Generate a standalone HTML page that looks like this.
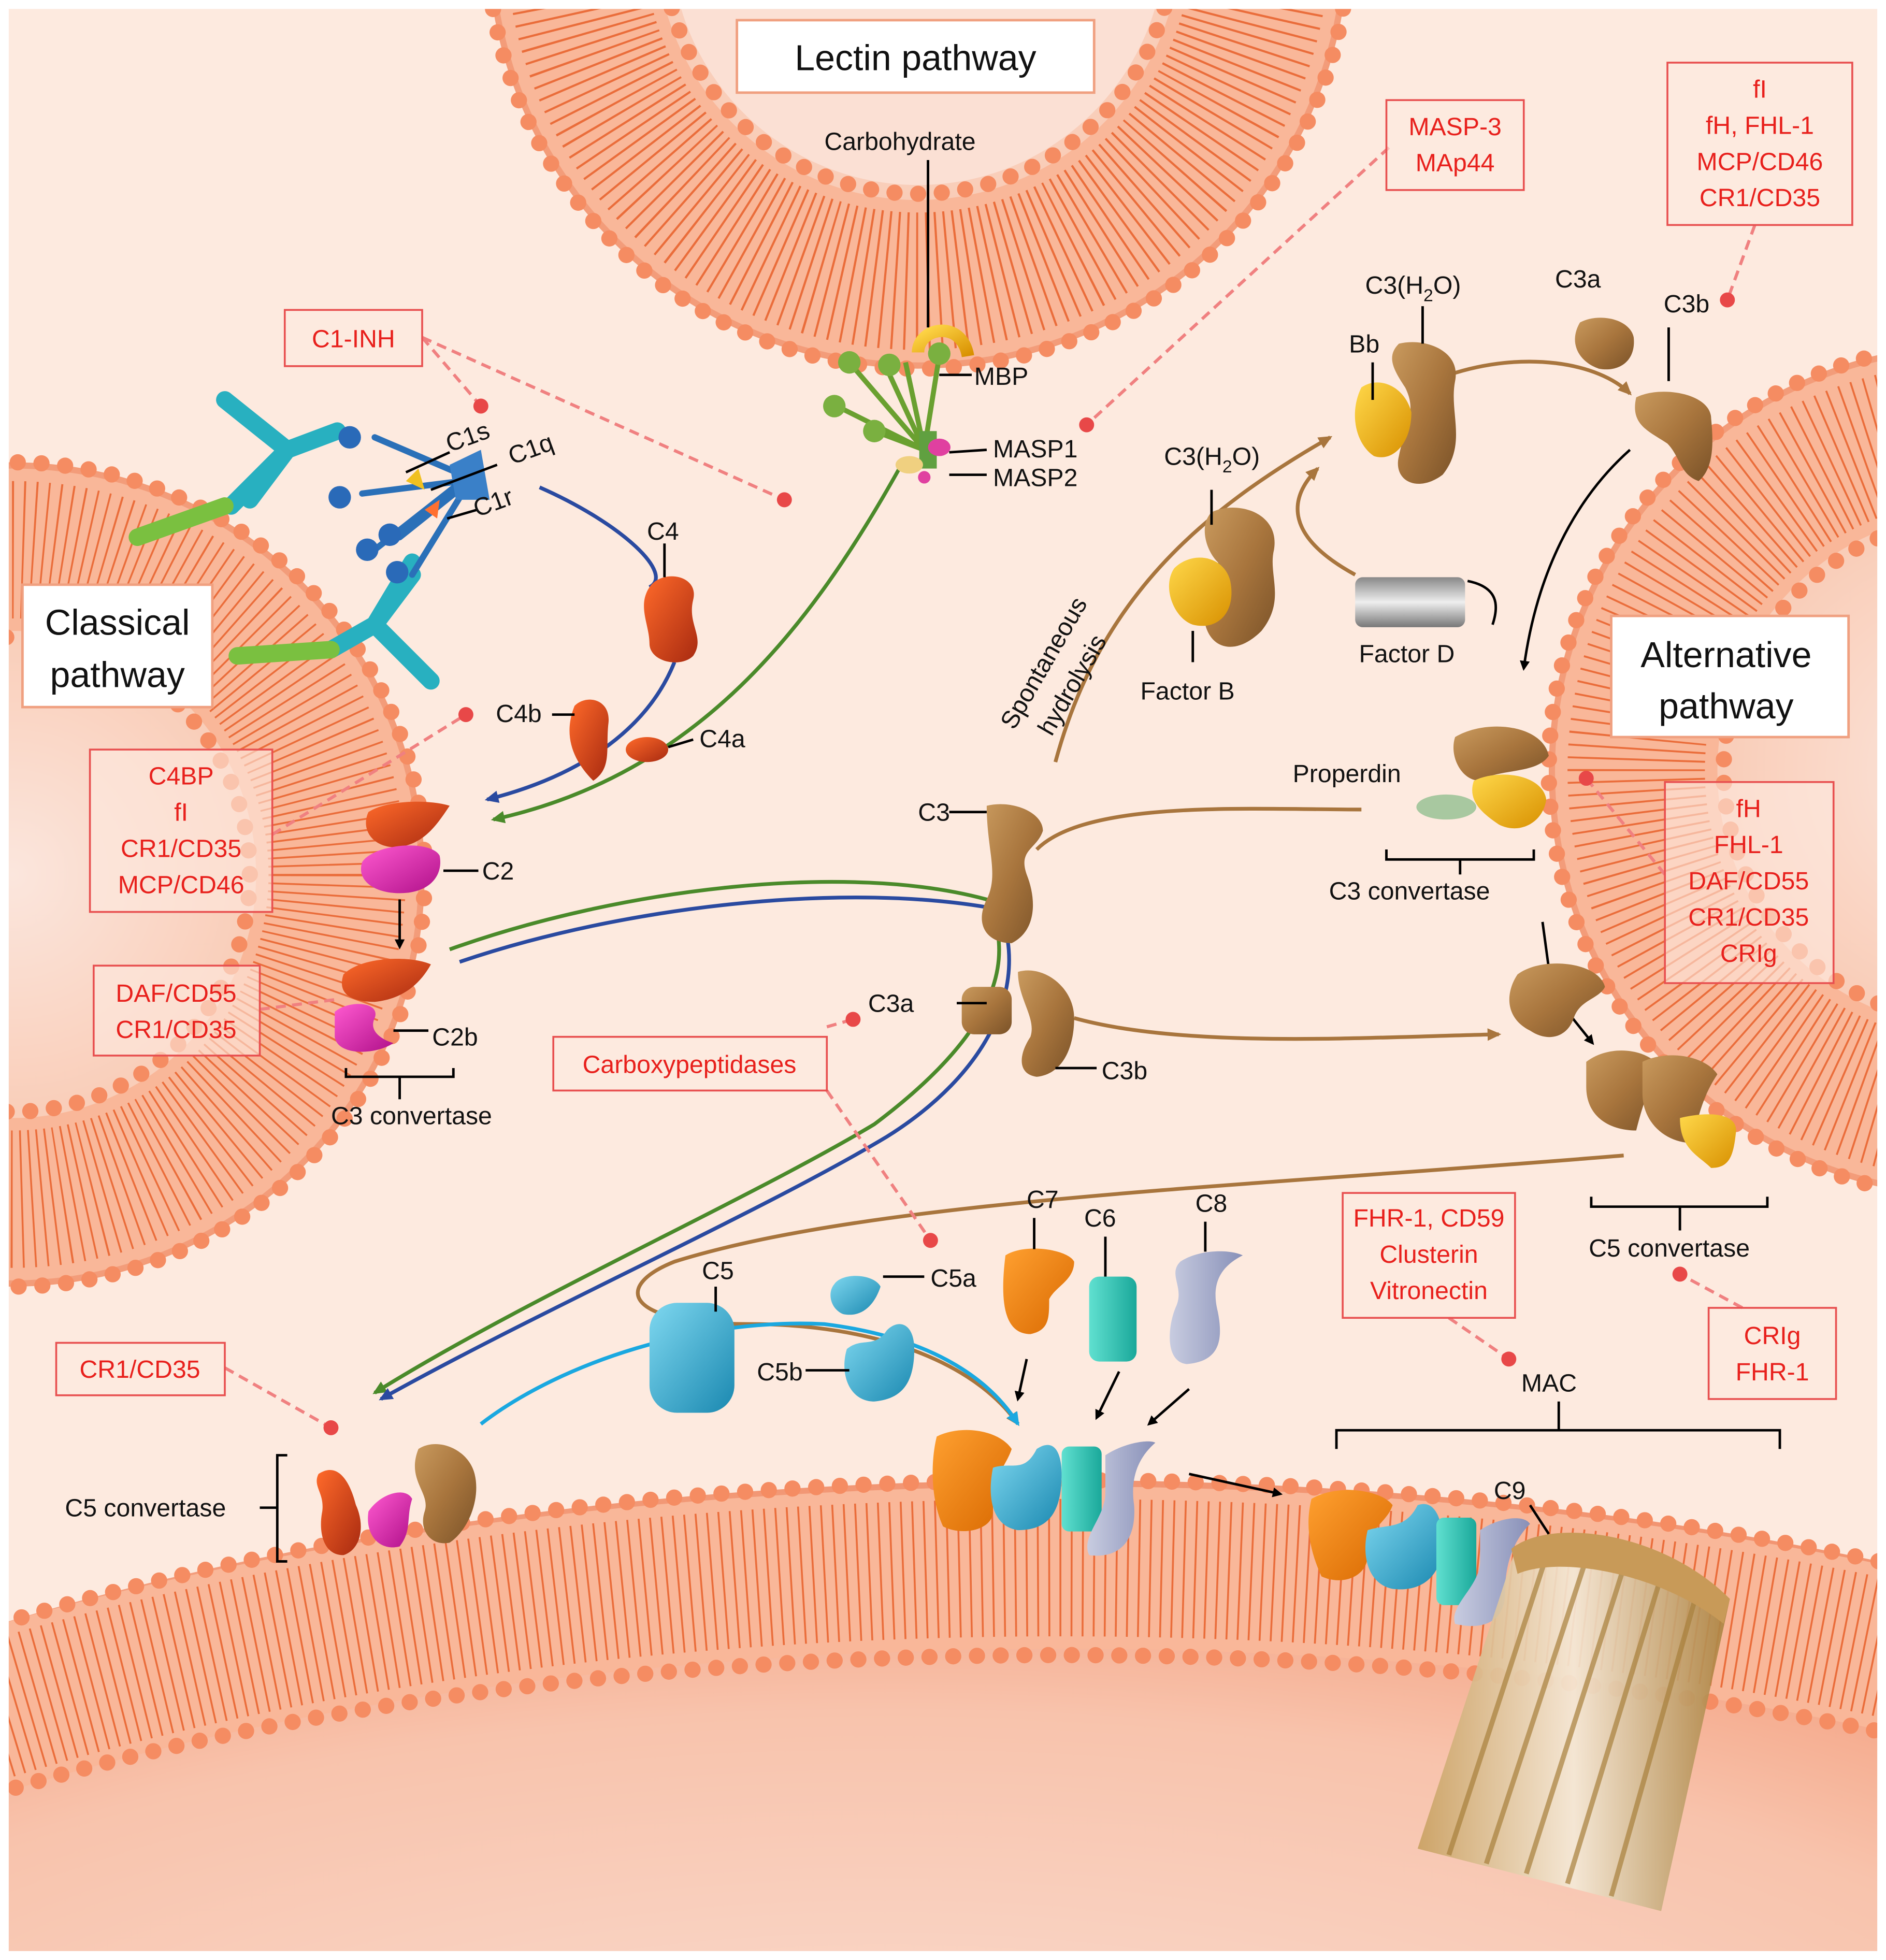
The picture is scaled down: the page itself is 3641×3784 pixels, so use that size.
<!DOCTYPE html>
<html><head><meta charset="utf-8"><style>html,body{margin:0;padding:0;background:#fdeadf;overflow:hidden;width:3641px;height:3784px}svg{display:block}</style></head><body>
<svg width="3641" height="3784" viewBox="0 0 1510 1569" xmlns="http://www.w3.org/2000/svg" font-family="Liberation Sans, sans-serif">
<defs>
<radialGradient id="cell" cx="50%" cy="50%" r="50%"><stop offset="0" stop-color="#fbe6dd"/><stop offset="0.6" stop-color="#f9cdb8"/><stop offset="1" stop-color="#f39b78"/></radialGradient>
<radialGradient id="cellB" cx="45%" cy="55%" r="55%"><stop offset="0" stop-color="#fbe4db"/><stop offset="0.7" stop-color="#f8c3ac"/><stop offset="1" stop-color="#f29572"/></radialGradient>
<linearGradient id="brown" x1="0" y1="0" x2="1" y2="1"><stop offset="0" stop-color="#c99a5e"/><stop offset="0.5" stop-color="#a8753d"/><stop offset="1" stop-color="#7a5228"/></linearGradient>
<linearGradient id="gold" x1="0" y1="0" x2="1" y2="1"><stop offset="0" stop-color="#ffd84a"/><stop offset="1" stop-color="#d89000"/></linearGradient>
<linearGradient id="red" x1="0" y1="0" x2="1" y2="1"><stop offset="0" stop-color="#ff6a2a"/><stop offset="1" stop-color="#a82a10"/></linearGradient>
<linearGradient id="mag" x1="0" y1="0" x2="1" y2="1"><stop offset="0" stop-color="#ff5ad0"/><stop offset="1" stop-color="#b0108a"/></linearGradient>
<linearGradient id="cyan" x1="0" y1="0" x2="1" y2="1"><stop offset="0" stop-color="#7fd8f0"/><stop offset="1" stop-color="#1a88b0"/></linearGradient>
<linearGradient id="teal" x1="0" y1="0" x2="1" y2="0"><stop offset="0" stop-color="#60e0d0"/><stop offset="1" stop-color="#1aa89a"/></linearGradient>
<linearGradient id="lav" x1="0" y1="0" x2="1" y2="0"><stop offset="0" stop-color="#c8cce0"/><stop offset="1" stop-color="#8890b8"/></linearGradient>
<linearGradient id="orng" x1="0" y1="0" x2="1" y2="1"><stop offset="0" stop-color="#ffa030"/><stop offset="1" stop-color="#d86800"/></linearGradient>
<linearGradient id="grey" x1="0" y1="0" x2="0" y2="1"><stop offset="0" stop-color="#888"/><stop offset="0.5" stop-color="#eee"/><stop offset="1" stop-color="#777"/></linearGradient>
<linearGradient id="mac" x1="0" y1="0" x2="1" y2="0"><stop offset="0" stop-color="#c8a060"/><stop offset="0.5" stop-color="#f4ead8"/><stop offset="1" stop-color="#a8803c"/></linearGradient>
<marker id="ak" markerWidth="8" markerHeight="8" refX="6" refY="4" orient="auto" markerUnits="userSpaceOnUse"><path d="M0,0 L8,4 L0,8z" fill="#000"/></marker>
<marker id="ab" markerWidth="12" markerHeight="12" refX="9" refY="6" orient="auto" markerUnits="userSpaceOnUse"><path d="M0,1 L11,6 L0,11z" fill="#2a4aa0"/></marker>
<marker id="ag" markerWidth="12" markerHeight="12" refX="9" refY="6" orient="auto" markerUnits="userSpaceOnUse"><path d="M0,1 L11,6 L0,11z" fill="#4a8a2a"/></marker>
<marker id="abr" markerWidth="12" markerHeight="12" refX="9" refY="6" orient="auto" markerUnits="userSpaceOnUse"><path d="M0,1 L11,6 L0,11z" fill="#a8753d"/></marker>
<marker id="ac" markerWidth="12" markerHeight="12" refX="9" refY="6" orient="auto" markerUnits="userSpaceOnUse"><path d="M0,1 L11,6 L0,11z" fill="#1aa8e0"/></marker>
</defs>
<rect width="1510" height="1569" fill="#fdeadf"/>
<!-- cells -->
<g>
<circle cx="735" cy="-50" r="345" fill="url(#cell)"/>
<circle cx="735" cy="-50" r="275" fill="none" stroke="#f9b799" stroke-width="130"/>
<circle cx="735" cy="-50" r="275" fill="none" stroke="#e8602a" stroke-width="110" pathLength="1000" stroke-dasharray="1 4" opacity="0.85"/>
<circle cx="735" cy="-50" r="345" fill="none" stroke="#f58c62" stroke-width="13" pathLength="1000" stroke-dasharray="0 8.772" stroke-linecap="round"/>
<circle cx="735" cy="-50" r="205" fill="none" stroke="#f58c62" stroke-width="13" pathLength="1000" stroke-dasharray="0 14.706" stroke-linecap="round"/>
<circle cx="735" cy="-50" r="198" fill="#fbe0d4"/>
</g>
<g>
<circle cx="10" cy="700" r="330" fill="url(#cell)"/>
<circle cx="10" cy="700" r="260" fill="none" stroke="#f9b799" stroke-width="130"/>
<circle cx="10" cy="700" r="260" fill="none" stroke="#e8602a" stroke-width="110" pathLength="1000" stroke-dasharray="0.9 4.1" opacity="0.85"/>
<circle cx="10" cy="700" r="330" fill="none" stroke="#f58c62" stroke-width="13" pathLength="1000" stroke-dasharray="0 9.174" stroke-linecap="round"/>
<circle cx="10" cy="700" r="190" fill="none" stroke="#f58c62" stroke-width="13" pathLength="1000" stroke-dasharray="0 15.873" stroke-linecap="round"/>
</g>
<g>
<circle cx="1582" cy="617" r="342" fill="url(#cell)"/>
<circle cx="1582" cy="617" r="272" fill="none" stroke="#f9b799" stroke-width="130"/>
<circle cx="1582" cy="617" r="272" fill="none" stroke="#e8602a" stroke-width="110" pathLength="1000" stroke-dasharray="0.9 4.1" opacity="0.85"/>
<circle cx="1582" cy="617" r="342" fill="none" stroke="#f58c62" stroke-width="13" pathLength="1000" stroke-dasharray="0 8.850" stroke-linecap="round"/>
<circle cx="1582" cy="617" r="202" fill="none" stroke="#f58c62" stroke-width="13" pathLength="1000" stroke-dasharray="0 14.925" stroke-linecap="round"/>
</g>
<g>
<ellipse cx="850" cy="1745" rx="1400" ry="560" fill="url(#cellB)"/>
<ellipse cx="850" cy="1745" rx="1330" ry="490" fill="none" stroke="#f9b799" stroke-width="130"/>
<ellipse cx="850" cy="1745" rx="1330" ry="490" fill="none" stroke="#e8602a" stroke-width="110" stroke-dasharray="1.5 7.5" opacity="0.85"/>
<ellipse cx="850" cy="1745" rx="1400" ry="560" fill="none" stroke="#f58c62" stroke-width="13" stroke-dasharray="0 19" stroke-linecap="round"/>
<ellipse cx="850" cy="1745" rx="1260" ry="420" fill="none" stroke="#f58c62" stroke-width="13" stroke-dasharray="0 19" stroke-linecap="round"/>
</g>
<rect x="0" y="0" width="1510" height="1569" fill="none" stroke="#fff" stroke-width="14"/>

<!-- pathway arrows -->
<g fill="none" stroke-width="3">
<path d="M432,390 C500,420 540,460 520,470" stroke="#2a4aa0"/>
<path d="M540,530 C520,580 470,620 390,640" stroke="#2a4aa0" marker-end="url(#ab)"/>
<path d="M720,375 C650,500 560,620 395,656" stroke="#4a8a2a" marker-end="url(#ag)"/>
<path d="M360,760 C500,710 680,690 790,720 C820,780 780,840 700,900 C600,960 420,1040 300,1115" stroke="#4a8a2a" marker-end="url(#ag)"/>
<path d="M368,770 C500,725 680,705 800,728 C825,790 790,860 710,910 C610,970 430,1050 305,1120" stroke="#2a4aa0" marker-end="url(#ab)"/>
<path d="M845,610 C880,480 960,410 1065,350" stroke="#a8753d" marker-end="url(#abr)"/>
<path d="M1160,300 C1220,280 1280,290 1305,315" stroke="#a8753d" marker-end="url(#abr)"/>
<path d="M1085,460 C1030,430 1030,400 1055,375" stroke="#a8753d" marker-end="url(#abr)"/>
<path d="M830,680 C870,640 1000,648 1090,648" stroke="#a8753d"/>
<path d="M860,815 C950,840 1100,830 1200,828" stroke="#a8753d" marker-end="url(#abr)"/>
<path d="M1300,925 C1000,950 700,960 540,1010 C490,1030 500,1060 600,1060 C700,1060 780,1090 815,1140" stroke="#a8753d" marker-end="url(#abr)"/>
<path d="M385,1140 C450,1090 560,1055 660,1060 C740,1070 790,1100 815,1140" stroke="#1aa8e0" marker-end="url(#ac)"/>
</g>
<g stroke="#000" stroke-width="2" fill="none">
<path d="M1305,360 C1260,400 1230,460 1220,535" marker-end="url(#ak)"/>
<path d="M1175,465 C1200,470 1200,485 1195,500"/>
<path d="M320,720 L320,758" marker-end="url(#ak)"/>
<path d="M1235,738 L1240,775"/>
<path d="M1255,810 L1275,835" marker-end="url(#ak)"/>
<path d="M822,1088 L815,1120" marker-end="url(#ak)"/>
<path d="M896,1098 L878,1135" marker-end="url(#ak)"/>
<path d="M952,1112 L920,1140" marker-end="url(#ak)"/>
<path d="M952,1180 L1025,1196" marker-end="url(#ak)"/>
</g>

<!-- red dashed connectors -->
<g stroke="#f08080" stroke-width="2.5" stroke-dasharray="8 5" fill="none">
<path d="M338,270 L385,325"/><path d="M338,270 L628,400"/>
<path d="M1112,118 L870,340"/>
<path d="M1405,180 L1383,240"/>
<path d="M218,668 L373,572"/>
<path d="M208,808 L270,800"/>
<path d="M662,822 L683,816"/><path d="M662,873 L745,993"/>
<path d="M1333,700 L1270,623"/>
<path d="M1160,1055 L1208,1088"/>
<path d="M1395,1047 L1345,1020"/>
<path d="M180,1095 L265,1143"/>
</g>
<g fill="#e84848">
<circle cx="385" cy="325" r="6"/><circle cx="628" cy="400" r="6"/><circle cx="870" cy="340" r="6"/><circle cx="1383" cy="240" r="6"/><circle cx="373" cy="572" r="6"/><circle cx="683" cy="816" r="6"/><circle cx="745" cy="993" r="6"/><circle cx="1270" cy="623" r="6"/><circle cx="1208" cy="1088" r="6"/><circle cx="1345" cy="1020" r="6"/><circle cx="265" cy="1143" r="6"/>
</g>

<!-- antibodies / C1 -->
<g stroke-linecap="round" fill="none">
<path d="M180,320 L230,360 L270,345 M230,360 L200,400 M230,360 L185,405" stroke="#28b0c0" stroke-width="14"/>
<path d="M180,405 L110,430" stroke="#7ac040" stroke-width="14"/>
<path d="M330,450 L300,500 L265,520 M300,500 L345,545 M300,500 L330,460" stroke="#28b0c0" stroke-width="14"/>
<path d="M265,520 L190,525" stroke="#7ac040" stroke-width="14"/>
<path d="M370,380 L300,350 M370,385 L290,395 M370,390 L320,430 M370,395 L330,460 M370,385 L300,440" stroke="#2a70b8" stroke-width="5"/>
</g>
<g fill="#2a6ab8"><circle cx="280" cy="350" r="9"/><circle cx="272" cy="398" r="9"/><circle cx="294" cy="440" r="9"/><circle cx="318" cy="458" r="9"/><circle cx="312" cy="428" r="9"/></g>
<path d="M360,372 L385,360 L392,400 L365,400z" fill="#3a80c8"/>
<path d="M325,385 L335,375 L340,392z" fill="#f0c020"/>
<path d="M340,408 L352,400 L350,415z" fill="#ff7030"/>

<!-- lectin -->
<path d="M735,282 C735,262 770,255 775,285" stroke="url(#gold)" stroke-width="10" fill="none"/>
<g stroke="#6aa030" stroke-width="4" fill="none"><path d="M740,360 L680,290 M740,360 L670,325 M740,360 L700,345 M740,360 L710,295 M740,360 L752,285 M740,360 L725,290"/></g>
<g fill="#7ab040"><circle cx="680" cy="290" r="9"/><circle cx="668" cy="325" r="9"/><circle cx="700" cy="345" r="9"/><circle cx="712" cy="292" r="9"/><circle cx="752" cy="283" r="9"/></g>
<rect x="736" y="345" width="14" height="30" fill="#60a040"/>
<ellipse cx="752" cy="358" rx="9" ry="7" fill="#e040a0"/><ellipse cx="728" cy="372" rx="11" ry="7" fill="#f0d080"/><circle cx="740" cy="382" r="5" fill="#e040a0"/>

<!-- C4 etc -->
<path d="M520,470 C530,455 560,460 555,480 C550,500 565,510 555,525 C545,535 520,530 520,515 C520,500 510,485 520,470z" fill="url(#red)"/>
<path d="M460,565 C470,555 490,560 487,580 C485,600 490,615 475,625 C460,610 450,590 460,565z" fill="url(#red)"/>
<ellipse cx="518" cy="600" rx="17" ry="10" fill="url(#red)"/>
<path d="M295,650 C310,640 345,640 360,645 C350,660 340,675 320,678 C300,680 288,665 295,650z" fill="url(#red)"/>
<path d="M290,690 C300,675 345,672 352,685 C355,700 345,715 320,715 C300,715 285,705 290,690z" fill="url(#mag)"/>
<path d="M275,780 C290,765 330,765 345,772 C335,790 320,800 300,802 C280,802 270,795 275,780z" fill="url(#red)"/>
<path d="M268,810 C280,800 305,802 300,815 C295,825 305,832 315,835 C300,845 270,845 268,830z" fill="url(#mag)"/>

<!-- brown proteins -->
<g fill="url(#brown)">
<path d="M790,645 C810,640 835,650 835,665 C830,680 815,680 822,700 C830,720 830,745 810,755 C790,755 780,740 790,720 C800,700 790,680 790,645z"/>
<rect x="770" y="790" width="40" height="38" rx="10"/>
<path d="M815,778 C835,772 860,790 860,815 C860,840 850,860 830,862 C815,860 815,845 825,830 C830,815 815,800 815,778z"/>
<path d="M970,410 C990,400 1025,410 1020,440 C1015,460 1030,480 1010,505 C990,525 970,520 965,500 C960,480 985,470 975,450 C965,440 960,420 970,410z"/>
<path d="M1120,275 C1140,270 1170,280 1165,305 C1160,330 1175,355 1155,380 C1135,395 1115,385 1120,365 C1125,340 1135,330 1125,310 C1115,295 1110,285 1120,275z"/>
<path d="M1265,258 C1280,250 1305,255 1308,270 C1310,290 1295,298 1280,295 C1265,290 1255,275 1265,258z"/>
<path d="M1310,318 C1330,308 1370,315 1370,335 C1372,355 1372,375 1360,385 C1345,380 1345,365 1335,355 C1320,345 1305,340 1310,318z"/>
<path d="M1165,590 C1190,575 1235,580 1240,605 C1230,620 1200,615 1185,625 C1170,625 1160,605 1165,590z"/>
<path d="M1215,780 C1235,765 1280,770 1285,790 C1280,800 1265,800 1260,815 C1255,830 1240,835 1225,825 C1205,815 1205,795 1215,780z"/>
<path d="M1270,850 C1290,835 1320,840 1330,855 C1320,870 1315,885 1310,905 C1290,905 1270,895 1270,870z"/>
<path d="M1315,850 C1335,840 1365,845 1375,860 C1365,875 1360,890 1355,915 C1335,915 1315,900 1315,875z"/>
<path d="M335,1160 C350,1150 375,1160 380,1180 C385,1200 375,1225 360,1235 C345,1238 335,1225 340,1210 C345,1195 325,1185 335,1160z"/>
</g>
<g fill="url(#gold)">
<path d="M940,455 C955,440 980,445 985,465 C990,490 975,505 955,500 C940,495 930,470 940,455z"/>
<path d="M1090,310 C1105,300 1125,310 1130,330 C1130,355 1115,370 1100,365 C1085,355 1080,330 1090,310z"/>
<path d="M1180,625 C1200,615 1235,620 1238,640 C1235,660 1215,668 1200,660 C1185,650 1175,640 1180,625z"/>
<path d="M1345,895 C1365,890 1390,890 1390,905 C1388,925 1385,935 1370,935 C1360,925 1345,920 1345,895z"/>
</g>
<ellipse cx="1158" cy="646" rx="24" ry="10" fill="#a8c8a0"/>
<rect x="1085" y="462" width="88" height="40" rx="6" fill="url(#grey)"/>
<path d="M255,1180 C270,1170 280,1185 285,1205 C292,1220 290,1240 275,1245 C258,1245 255,1225 258,1210 C260,1195 250,1190 255,1180z" fill="url(#red)"/>
<path d="M295,1210 C305,1195 325,1190 330,1200 C325,1215 330,1225 320,1238 C305,1242 292,1230 295,1210z" fill="url(#mag)"/>

<!-- C5 etc -->
<rect x="520" y="1043" width="68" height="88" rx="22" fill="url(#cyan)"/>
<path d="M668,1028 C675,1018 700,1020 705,1030 C700,1045 690,1055 675,1052 C665,1048 662,1035 668,1028z" fill="url(#cyan)"/>
<path d="M678,1080 C690,1070 700,1080 710,1065 C720,1055 732,1060 732,1080 C732,1110 720,1120 700,1122 C680,1122 672,1100 678,1080z" fill="url(#cyan)"/>
<path d="M805,1005 C820,995 855,1000 860,1010 C860,1025 845,1030 840,1040 C840,1055 840,1065 825,1068 C805,1068 800,1045 805,1005z" fill="url(#orng)"/>
<rect x="872" y="1022" width="38" height="68" rx="8" fill="url(#teal)"/>
<path d="M945,1010 C960,1000 985,1000 995,1005 C975,1015 970,1030 975,1050 C980,1075 975,1090 950,1092 C932,1090 935,1060 942,1045 C948,1030 935,1020 945,1010z" fill="url(#lav)"/>
<path d="M750,1150 C770,1140 800,1145 810,1160 C805,1175 795,1180 795,1210 C795,1225 770,1230 755,1222 C745,1200 745,1170 750,1150z" fill="url(#orng)"/>
<path d="M795,1175 C810,1170 820,1180 830,1160 C845,1150 850,1165 850,1180 C850,1210 840,1225 815,1225 C795,1222 790,1200 795,1175z" fill="url(#cyan)"/>
<rect x="850" y="1158" width="32" height="68" rx="6" fill="url(#teal)"/>
<path d="M885,1165 C900,1155 920,1152 925,1155 C910,1168 905,1185 908,1205 C910,1235 895,1248 872,1245 C865,1230 885,1215 885,1195z" fill="url(#lav)"/>
<path d="M1050,1200 C1070,1188 1105,1192 1115,1205 C1110,1220 1095,1222 1095,1245 C1095,1262 1075,1270 1058,1262 C1048,1240 1045,1220 1050,1200z" fill="url(#orng)"/>
<path d="M1095,1225 C1110,1220 1125,1225 1135,1205 C1148,1200 1155,1215 1155,1235 C1155,1260 1140,1275 1115,1272 C1095,1268 1090,1245 1095,1225z" fill="url(#cyan)"/>
<rect x="1150" y="1215" width="32" height="70" rx="6" fill="url(#teal)"/>
<path d="M1185,1225 C1200,1215 1220,1212 1225,1220 C1210,1235 1205,1255 1205,1275 C1205,1300 1185,1305 1165,1300 C1160,1285 1185,1270 1185,1250z" fill="url(#lav)"/>
<!-- MAC pore -->
<path d="M1215,1235 L1385,1280 L1330,1530 L1135,1480z" fill="url(#mac)" opacity="0.9"/>
<g stroke="#a8803c" stroke-width="4" opacity="0.7"><path d="M1240,1240 L1160,1485 M1270,1248 L1190,1492 M1300,1255 L1222,1500 M1330,1262 L1255,1508 M1360,1270 L1290,1518"/></g>
<path d="M1210,1240 C1240,1215 1330,1225 1385,1280 L1380,1300 C1330,1260 1250,1245 1215,1260z" fill="#c89a58"/>

<!-- brackets & leader lines -->
<g stroke="#000" stroke-width="2" fill="none">
<path d="M277,855 L277,862 L363,862 L363,855 M320,862 L320,880"/>
<path d="M1110,680 L1110,688 L1228,688 L1228,680 M1169,688 L1169,700"/>
<path d="M1274,958 L1274,966 L1415,966 L1415,958 M1345,966 L1345,985"/>
<path d="M1070,1160 L1070,1145 L1425,1145 L1425,1160 M1248,1145 L1248,1122"/>
<path d="M230,1165 L222,1165 L222,1250 L230,1250 M222,1207 L208,1207"/>
<path d="M743,128 L743,262 M778,300 L752,300 M790,360 L760,362 M790,380 L760,380"/>
<path d="M325,378 L360,362 M345,392 L398,372 M358,415 L382,408"/>
<path d="M532,435 L532,462 M442,572 L460,572 M555,592 L535,598 M355,697 L383,697 M315,825 L343,825"/>
<path d="M760,650 L790,650 M766,803 L790,803 M845,855 L878,855"/>
<path d="M970,392 L970,420 M955,505 L955,530 M1139,245 L1139,275 M1099,290 L1099,320 M1336,262 L1336,305"/>
<path d="M573,1030 L573,1050 M707,1022 L740,1022 M645,1097 L680,1097 M828,975 L828,1000 M885,990 L885,1022 M965,978 L965,1002"/>
<path d="M1225,1205 L1240,1228"/>
</g>

<!-- title boxes -->
<g stroke="#f0a080" stroke-width="2" fill="#fff">
<rect x="590" y="16" width="286" height="58"/>
<rect x="18" y="468" width="152" height="98"/>
<rect x="1290" y="493" width="190" height="97"/>
</g>
<g font-size="29" text-anchor="middle" fill="#111">
<text x="733" y="56">Lectin pathway</text>
<text x="94" y="508">Classical</text><text x="94" y="550">pathway</text>
<text x="1382" y="534">Alternative</text><text x="1382" y="575">pathway</text>
</g>

<!-- red boxes -->
<g stroke="#e85050" stroke-width="1.5" fill="#fdeadf" fill-opacity="0.6">
<rect x="1110" y="80" width="110" height="72"/>
<rect x="1335" y="50" width="148" height="130"/>
<rect x="228" y="248" width="110" height="45"/>
<rect x="72" y="600" width="146" height="130"/>
<rect x="75" y="773" width="133" height="72"/>
<rect x="443" y="830" width="219" height="43"/>
<rect x="1333" y="626" width="135" height="161"/>
<rect x="1075" y="955" width="138" height="100"/>
<rect x="1368" y="1047" width="102" height="73"/>
<rect x="45" y="1075" width="135" height="42"/>
</g>
<g font-size="20" fill="#e8201c" text-anchor="middle">
<text x="1165" y="108">MASP-3</text><text x="1165" y="137">MAp44</text>
<text x="1409" y="78">fI</text><text x="1409" y="107">fH, FHL-1</text><text x="1409" y="136">MCP/CD46</text><text x="1409" y="165">CR1/CD35</text>
<text x="283" y="278">C1-INH</text>
<text x="145" y="628">C4BP</text><text x="145" y="657">fI</text><text x="145" y="686">CR1/CD35</text><text x="145" y="715">MCP/CD46</text>
<text x="141" y="802">DAF/CD55</text><text x="141" y="831">CR1/CD35</text>
<text x="552" y="859">Carboxypeptidases</text>
<text x="1400" y="654">fH</text><text x="1400" y="683">FHL-1</text><text x="1400" y="712">DAF/CD55</text><text x="1400" y="741">CR1/CD35</text><text x="1400" y="770">CRIg</text>
<text x="1144" y="982">FHR-1, CD59</text><text x="1144" y="1011">Clusterin</text><text x="1144" y="1040">Vitronectin</text>
<text x="1419" y="1076">CRIg</text><text x="1419" y="1105">FHR-1</text>
<text x="112" y="1103">CR1/CD35</text>
</g>

<!-- black labels -->
<g font-size="20" fill="#111">
<text x="660" y="120">Carbohydrate</text>
<text x="780" y="308">MBP</text>
<text x="795" y="366">MASP1</text><text x="795" y="389">MASP2</text>
<text x="360" y="362" transform="rotate(-20 360 362)">C1s</text>
<text x="410" y="372" transform="rotate(-20 410 372)">C1q</text>
<text x="382" y="414" transform="rotate(-20 382 414)">C1r</text>
<text x="518" y="432">C4</text>
<text x="397" y="578">C4b</text><text x="560" y="598">C4a</text>
<text x="386" y="704">C2</text><text x="346" y="837">C2b</text>
<text x="265" y="900">C3 convertase</text>
<text x="735" y="657">C3</text><text x="695" y="810">C3a</text><text x="882" y="864">C3b</text>
<text x="932" y="372">C3(H<tspan font-size="14" dy="6">2</tspan><tspan dy="-6">O)</tspan></text>
<text x="1093" y="235">C3(H<tspan font-size="14" dy="6">2</tspan><tspan dy="-6">O)</tspan></text>
<text x="1080" y="282">Bb</text><text x="1245" y="230">C3a</text><text x="1332" y="250">C3b</text>
<text x="913" y="560">Factor B</text><text x="1088" y="530">Factor D</text>
<text x="1035" y="626">Properdin</text>
<text x="1064" y="720">C3  convertase</text>
<text x="1272" y="1006">C5 convertase</text>
<text x="52" y="1214">C5 convertase</text>
<text x="562" y="1024">C5</text><text x="745" y="1030">C5a</text><text x="606" y="1105">C5b</text>
<text x="822" y="967">C7</text><text x="868" y="982">C6</text><text x="957" y="970">C8</text>
<text x="1218" y="1114">MAC</text><text x="1196" y="1200">C9</text>
<text x="812" y="585" transform="rotate(-60 812 585)">Spontaneous</text>
<text x="842" y="590" transform="rotate(-60 842 590)">hydrolysis</text>
</g>
</svg>
</body></html>
